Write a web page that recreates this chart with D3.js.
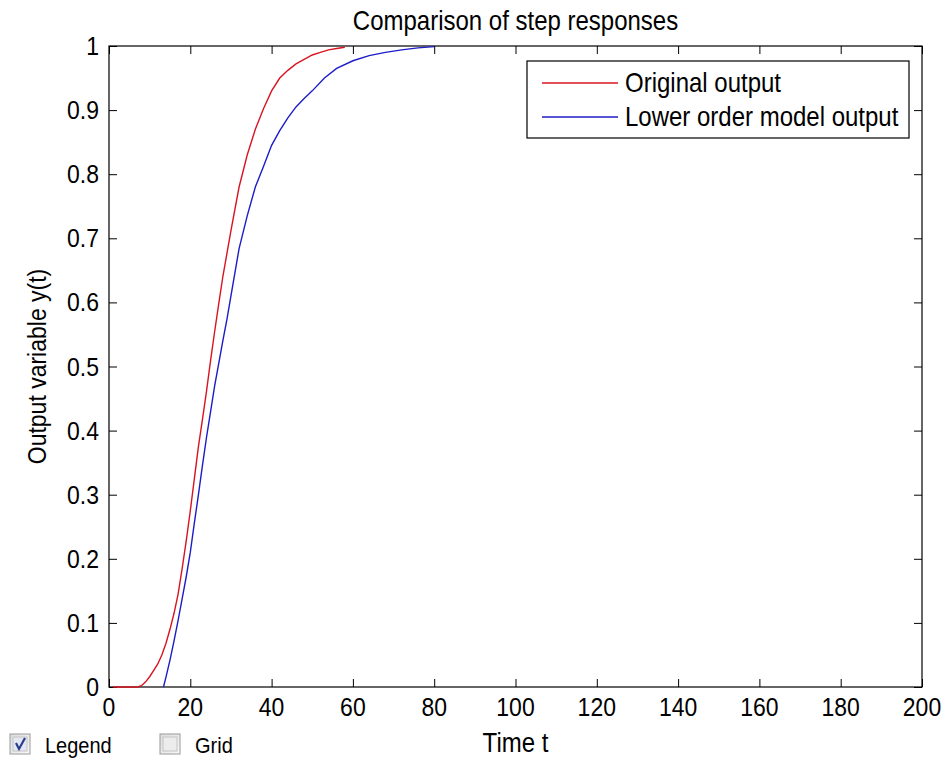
<!DOCTYPE html>
<html>
<head>
<meta charset="utf-8">
<script src="https://cdn.jsdelivr.net/npm/d3@7"></script>
<style>
  body { margin: 0; background: #fff; }
  text { font-family: "Liberation Sans", Arial, sans-serif; fill: #000; }
</style>
</head>
<body>
<div id="chart"></div>
<script>
// data
const xTicks = [0, 20, 40, 60, 80, 100, 120, 140, 160, 180, 200];
const yTicks = [0, 0.1, 0.2, 0.3, 0.4, 0.5, 0.6, 0.7, 0.8, 0.9, 1];
const yTickLabels = ['0', '0.1', '0.2', '0.3', '0.4', '0.5', '0.6', '0.7', '0.8', '0.9', '1'];
const seriesNames = ['Original output', 'Lower order model output'];

const originalT = [1, 7, 8, 9, 10, 11, 12, 13, 14, 15, 16, 17, 18, 19, 20, 21, 22, 23, 24, 25, 26, 27, 28, 30, 32, 34, 36, 38, 40, 42, 44, 46, 48, 50, 52, 54, 56, 58];
const originalY = [0, 0, 0.002, 0.008, 0.016, 0.026, 0.036, 0.05, 0.068, 0.09, 0.115, 0.145, 0.185, 0.228, 0.275, 0.325, 0.375, 0.418, 0.462, 0.51, 0.555, 0.598, 0.64, 0.712, 0.78, 0.83, 0.87, 0.902, 0.93, 0.95, 0.962, 0.972, 0.979, 0.986, 0.99, 0.994, 0.996, 0.998];

const modelT = [13.4, 14, 15, 16, 17, 18, 19, 20, 21, 22, 23, 24, 25, 26, 27, 28, 29, 30, 32, 34, 36, 38, 40, 42, 44, 46, 48, 50, 53, 56, 60, 64, 68, 72, 76, 80];
const modelY = [0, 0.015, 0.042, 0.072, 0.104, 0.138, 0.172, 0.21, 0.256, 0.3, 0.346, 0.39, 0.43, 0.47, 0.505, 0.54, 0.573, 0.61, 0.684, 0.735, 0.78, 0.812, 0.845, 0.868, 0.888, 0.905, 0.918, 0.93, 0.95, 0.965, 0.977, 0.985, 0.99, 0.994, 0.997, 0.999];

const colors = ['#d81420', '#1c1cc8'];
const sy = 1.12; // text in the picture is a bit taller than wide

const width = 945, height = 760;
const plotLeft = 109, plotRight = 922, plotTop = 46, plotBottom = 687;

const svg = d3.select('#chart').append('svg')
	.attr('width', width)
	.attr('height', height);

const x = d3.scaleLinear().domain([0, 200]).range([plotLeft, plotRight]);
const y = d3.scaleLinear().domain([0, 1]).range([plotBottom, plotTop]);

function label(g, px, py, str, size, anchor, rotate = 0) {
	g.append('g')
		.attr('transform', `translate(${px},${py}) rotate(${rotate}) scale(1,${sy})`)
		.append('text')
		.attr('font-size', size)
		.attr('text-anchor', anchor)
		.text(str);
}

// ticks, inward on all four sides
const tickLen = 8;
svg.append('g').attr('transform', `translate(0,${plotBottom})`)
	.call(d3.axisBottom(x).tickValues(xTicks).tickSize(-tickLen).tickFormat(''))
	.call(g => g.select('.domain').remove());
svg.append('g').attr('transform', `translate(0,${plotTop})`)
	.call(d3.axisTop(x).tickValues(xTicks).tickSize(-tickLen).tickFormat(''))
	.call(g => g.select('.domain').remove());
svg.append('g').attr('transform', `translate(${plotLeft},0)`)
	.call(d3.axisLeft(y).tickValues(yTicks).tickSize(-tickLen).tickFormat(''))
	.call(g => g.select('.domain').remove());
svg.append('g').attr('transform', `translate(${plotRight},0)`)
	.call(d3.axisRight(y).tickValues(yTicks).tickSize(-tickLen).tickFormat(''))
	.call(g => g.select('.domain').remove());
svg.selectAll('.tick line').attr('stroke', '#000');

svg.append('rect')
	.attr('x', plotLeft).attr('y', plotTop)
	.attr('width', plotRight - plotLeft).attr('height', plotBottom - plotTop)
	.attr('fill', 'none').attr('stroke', '#000').attr('stroke-width', 1.2);

// tick labels
const labels = svg.append('g');
xTicks.forEach(t => label(labels, x(t), plotBottom + 29, String(t), 23, 'middle'));
yTicks.forEach((t, i) => label(labels, plotLeft - 10, y(t) + 9, yTickLabels[i], 23, 'end'));

// title and axis labels
label(labels, (plotLeft + plotRight) / 2, 30, 'Comparison of step responses', 24, 'middle');
label(labels, (plotLeft + plotRight) / 2, 752, 'Time t', 24, 'middle');
label(labels, 46, (plotTop + plotBottom) / 2, 'Output variable y(t)', 23, 'middle', -90);

// curves
const line = d3.line()
	.x(d => x(d[0]))
	.y(d => y(d[1]));

const series = [
	d3.zip(originalT, originalY),
	d3.zip(modelT, modelY)
];

svg.append('g')
	.selectAll('path')
	.data(series)
	.enter()
	.append('path')
	.attr('d', line)
	.attr('fill', 'none')
	.attr('stroke', (d, i) => colors[i])
	.attr('stroke-width', 1.4);

// legend
const legend = svg.append('g');
legend.append('rect')
	.attr('x', 527).attr('y', 61)
	.attr('width', 382).attr('height', 77)
	.attr('fill', '#fff').attr('stroke', '#000').attr('stroke-width', 1.2);

const rows = legend.selectAll('g.row')
	.data(seriesNames)
	.enter()
	.append('g')
	.attr('class', 'row')
	.attr('transform', (d, i) => `translate(0, ${83 + i * 34})`);

rows.append('line')
	.attr('x1', 542).attr('x2', 618)
	.attr('stroke', (d, i) => colors[i])
	.attr('stroke-width', 1.4);

rows.each(function(d) {
	label(d3.select(this), 625, 9, d, 24, 'start');
});

// check boxes under the plot
const defs = svg.append('defs');
const grad = defs.append('linearGradient')
	.attr('id', 'boxFill')
	.attr('x1', 0).attr('y1', 0).attr('x2', 1).attr('y2', 1);
grad.append('stop').attr('offset', '0%').attr('stop-color', '#dcdcdc');
grad.append('stop').attr('offset', '100%').attr('stop-color', '#f8f8f8');

const boxes = [
	{ x: 10, text: 'Legend', checked: true },
	{ x: 160, text: 'Grid', checked: false }
];

const ui = svg.append('g');
boxes.forEach(b => {
	ui.append('rect')
		.attr('x', b.x).attr('y', 734)
		.attr('width', 20).attr('height', 20)
		.attr('fill', 'url(#boxFill)')
		.attr('stroke', '#9a9a9a');
	ui.append('rect')
		.attr('x', b.x + 3).attr('y', 737)
		.attr('width', 14).attr('height', 14)
		.attr('fill', b.checked ? '#e4e8f4' : '#ececec')
		.attr('stroke', '#c4c4c4');
	if (b.checked) {
		ui.append('path')
			.attr('d', `M${b.x + 6},743 L${b.x + 9},749 L${b.x + 15},738`)
			.attr('fill', 'none')
			.attr('stroke', '#2a3f8c')
			.attr('stroke-width', 2.2);
	}
	label(ui, b.x + 35, 753, b.text, 20, 'start');
});
</script>
</body>
</html>
